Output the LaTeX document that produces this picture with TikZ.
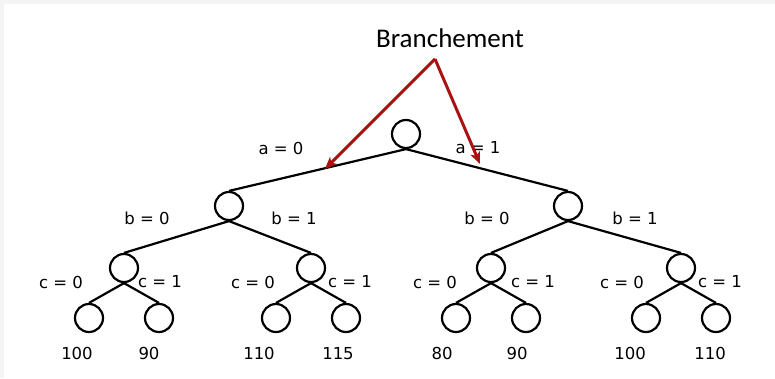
\documentclass[tikz,border=0pt]{standalone}
\usepackage{fontspec}
\setmainfont{DejaVu Sans}
\newfontfamily\titlefont{Carlito}
\usetikzlibrary{arrows.meta}
\definecolor{arrowred}{RGB}{170,18,18}
\definecolor{framegray}{RGB}{244,244,244}
\begin{document}
\begin{tikzpicture}[x=1pt,y=-1pt,
  tnode/.style={circle,draw=black,line width=2.2pt,minimum size=28pt,inner sep=0pt},
  edge/.style={draw=black,line width=2.2pt},
  lbl/.style={font=\fontsize{16.5pt}{18pt}\selectfont,inner sep=0pt},
  val/.style={font=\fontsize{16.5pt}{18pt}\selectfont,inner sep=0pt},
  redarrow/.style={draw=arrowred,line width=3pt,-{Stealth[length=12pt,width=10pt,inset=3pt]}}]
\useasboundingbox (0,0) rectangle (775,378);
\fill[framegray] (0,0) rectangle (775,378);
\fill[white] (4,4) rectangle (775,378);
% nodes
\node[tnode] (r) at (406,134) {};
\node[tnode] (l) at (229,206) {};
\node[tnode] (rr) at (568,206) {};
\node[tnode] (ll) at (124,268) {};
\node[tnode] (lr) at (311,268) {};
\node[tnode] (rl) at (491,268) {};
\node[tnode] (rrr) at (681,268) {};
\node[tnode] (f1) at (89,318) {};
\node[tnode] (f2) at (159,318) {};
\node[tnode] (f3) at (276,318) {};
\node[tnode] (f4) at (346,318) {};
\node[tnode] (f5) at (456,318) {};
\node[tnode] (f6) at (526,318) {};
\node[tnode] (f7) at (646,318) {};
\node[tnode] (f8) at (716,318) {};
% edges
\draw[edge] (r.south) -- (l.north);
\draw[edge] (r.south) -- (rr.north);
\draw[edge] (l.south) -- (ll.north);
\draw[edge] (l.south) -- (lr.north);
\draw[edge] (rr.south) -- (rl.north);
\draw[edge] (rr.south) -- (rrr.north);
\draw[edge] (ll.south) -- (f1.north);
\draw[edge] (ll.south) -- (f2.north);
\draw[edge] (lr.south) -- (f3.north);
\draw[edge] (lr.south) -- (f4.north);
\draw[edge] (rl.south) -- (f5.north);
\draw[edge] (rl.south) -- (f6.north);
\draw[edge] (rrr.south) -- (f7.north);
\draw[edge] (rrr.south) -- (f8.north);
% labels
\node[lbl] (a0) at (281,148) {a = 0};
\node[lbl] (a1) at (478,148) {a = 1};
\node[lbl] (b0l) at (147,218) {b = 0};
\node[lbl] (b1l) at (294,218) {b = 1};
\node[lbl] (b0r) at (487,218) {b = 0};
\node[lbl] (b1r) at (635,218) {b = 1};
\node[lbl] (c01) at (61,282) {c = 0};
\node[lbl] (c11) at (160,282) {c = 1};
\node[lbl] (c02) at (253,282) {c = 0};
\node[lbl] (c12) at (350,282) {c = 1};
\node[lbl] (c03) at (435,282) {c = 0};
\node[lbl] (c13) at (533,282) {c = 1};
\node[lbl] (c04) at (622,282) {c = 0};
\node[lbl] (c14) at (720,282) {c = 1};
% values
\node[val,anchor=base] (v1) at (77,359) {100};
\node[val,anchor=base] (v2) at (149,359) {90};
\node[val,anchor=base] (v3) at (259,359) {110};
\node[val,anchor=base] (v4) at (338,359) {115};
\node[val,anchor=base] (v5) at (442,359) {80};
\node[val,anchor=base] (v6) at (517,359) {90};
\node[val,anchor=base] (v7) at (630,359) {100};
\node[val,anchor=base] (v8) at (710,359) {110};
% title and arrows
\node[font=\titlefont\fontsize{27pt}{30pt}\selectfont,inner sep=0pt] (t) at (450,38) {Branchement};
\coordinate (apex) at (435,59);
\coordinate (tipl) at (325,169);
\coordinate (tipr) at (480,164);
\draw[redarrow,line join=round] (apex) -- (tipl);
\draw[redarrow,line join=round] (apex) -- (tipr);
\end{tikzpicture}
\end{document}
